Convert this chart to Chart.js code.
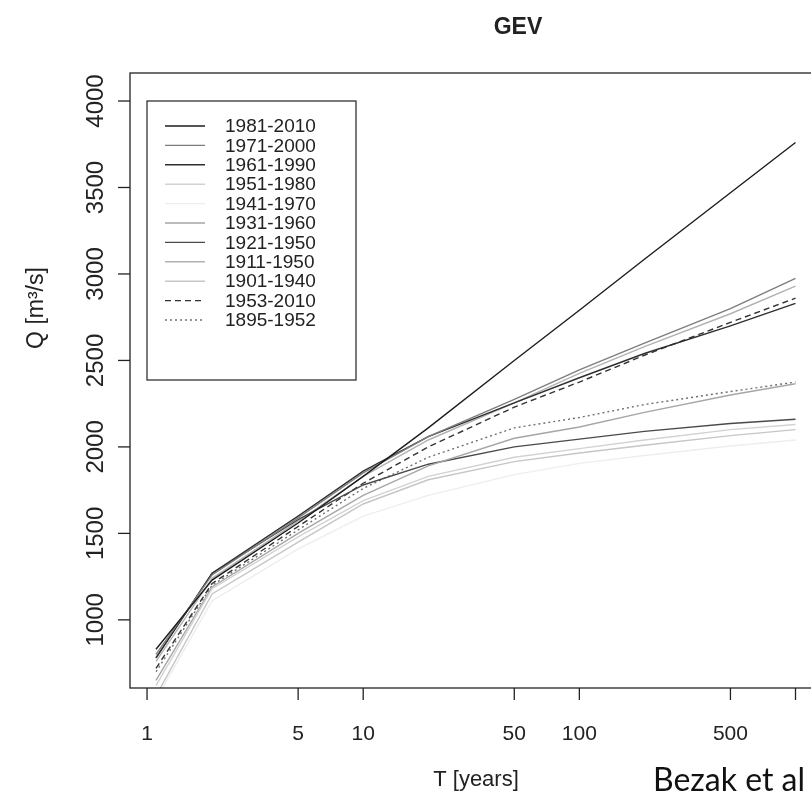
<!DOCTYPE html>
<html>
<head>
<meta charset="utf-8">
<script src="https://cdn.jsdelivr.net/npm/chart.js@4.4.1/dist/chart.umd.min.js"></script>
<style>
  html, body { margin: 0; padding: 0; background: #fff; overflow: hidden; }
</style>
</head>
<body>
<canvas id="grafico" width="830" height="802"></canvas>
<script>
// Periodos de retorno T [anos]
const periodos = [1.1, 2, 5, 10, 20, 50, 100, 200, 500, 1000];

// Vazoes Q [m3/s]
const q1981_2010 = [830, 1230, 1560, 1830, 2110, 2500, 2790, 3085, 3470, 3760];
const q1971_2000 = [800, 1260, 1590, 1850, 2060, 2275, 2445, 2600, 2800, 2975];
const q1961_1990 = [780, 1270, 1600, 1860, 2060, 2255, 2400, 2540, 2700, 2830];
const q1951_1980 = [620, 1180, 1480, 1690, 1830, 1940, 1990, 2040, 2100, 2130];
const q1941_1970 = [540, 1110, 1410, 1600, 1720, 1840, 1905, 1950, 2005, 2040];
const q1931_1960 = [650, 1190, 1500, 1720, 1890, 2050, 2115, 2200, 2300, 2365];
const q1921_1950 = [780, 1270, 1580, 1780, 1900, 2000, 2045, 2090, 2135, 2160];
const q1911_1950 = [760, 1240, 1570, 1830, 2040, 2255, 2425, 2580, 2770, 2930];
const q1901_1940 = [560, 1150, 1450, 1670, 1810, 1915, 1965, 2010, 2065, 2100];
const q1953_2010 = [720, 1210, 1540, 1790, 2000, 2230, 2375, 2530, 2720, 2860];
const q1895_1952 = [700, 1200, 1520, 1760, 1940, 2110, 2170, 2245, 2320, 2375];

const legendas = ['1981-2010', '1971-2000', '1961-1990', '1951-1980', '1941-1970',
    '1931-1960', '1921-1950', '1911-1950', '1901-1940', '1953-2010', '1895-1952'];
const series = [q1981_2010, q1971_2000, q1961_1990, q1951_1980, q1941_1970,
    q1931_1960, q1921_1950, q1911_1950, q1901_1940, q1953_2010, q1895_1952];

// Eixos
const xTicks = [1, 5, 10, 50, 100, 500, 1000];
const xTickLabels = ['1', '5', '10', '50', '100', '500', ''];
const yTicks = [1000, 1500, 2000, 2500, 3000, 3500, 4000];

// Cores e tracos (tons de cinza como no original)
const cores = ['#1c1c1c', '#7e7e7e', '#2e2e2e', '#d2d2d2', '#eeeeee',
    '#a6a6a6', '#4a4a4a', '#b2b2b2', '#c6c6c6', '#333333', '#707070'];
const tracos = [[], [], [], [], [], [], [], [], [], [6, 4], [2, 3]];

const fonte = '"Liberation Sans", Arial, sans-serif';
const corTexto = '#222';

// Desenha eixos no estilo R, legenda e titulos
const eixosR = {
    id: 'eixosR',
    afterDatasetsDraw(chart) {
        const { ctx, chartArea: a, scales: { x, y } } = chart;
        const linha = (x1, y1, x2, y2) => {
            ctx.beginPath(); ctx.moveTo(x1, y1); ctx.lineTo(x2, y2); ctx.stroke();
        };
        const vertical = (s, px, py) => {
            ctx.save();
            ctx.translate(px, py);
            ctx.rotate(-Math.PI / 2);
            ctx.fillText(s, 0, 0);
            ctx.restore();
        };
        ctx.save();
        ctx.strokeStyle = '#222';
        ctx.lineWidth = 1.3;
        ctx.strokeRect(a.left, a.top, a.right - a.left, a.bottom - a.top);

        ctx.fillStyle = corTexto;
        ctx.textAlign = 'center';
        ctx.textBaseline = 'middle';

        // eixo x
        ctx.font = '21px ' + fonte;
        xTicks.forEach((t, i) => {
            const px = x.getPixelForValue(t);
            linha(px, a.bottom, px, a.bottom + 12);
            if (xTickLabels[i]) ctx.fillText(xTickLabels[i], px, 734);
        });
        ctx.font = '22px ' + fonte;
        ctx.fillText('T [years]', 476, 780);

        // eixo y (rotulos girados)
        ctx.font = '24px ' + fonte;
        yTicks.forEach(v => {
            const py = y.getPixelForValue(v);
            linha(a.left - 12, py, a.left, py);
            vertical(String(v), 96, py);
        });
        ctx.font = '23px ' + fonte;
        vertical('Q [m\u00B3/s]', 37, 308);

        // titulo
        ctx.font = 'bold 23px ' + fonte;
        ctx.fillText('GEV', 518, 28);

        // legenda
        ctx.fillStyle = '#fff';
        ctx.fillRect(147, 101, 209, 279);
        ctx.strokeStyle = '#222';
        ctx.lineWidth = 1.2;
        ctx.strokeRect(147, 101, 209, 279);
        ctx.font = '19px ' + fonte;
        ctx.textAlign = 'left';
        chart.data.datasets.forEach((ds, i) => {
            const ly = 126 + i * 19.4;
            ctx.strokeStyle = ds.borderColor;
            ctx.lineWidth = ds.borderWidth;
            ctx.setLineDash(ds.borderDash || []);
            linha(165, ly, 205, ly);
            ctx.setLineDash([]);
            ctx.fillStyle = corTexto;
            ctx.fillText(ds.label, 225, ly + 1);
        });

        // credito
        ctx.fillStyle = '#111';
        ctx.font = '32px Lato, "Open Sans", sans-serif';
        ctx.textBaseline = 'alphabetic';
        ctx.fillText('Bezak et al', 653, 791);
        ctx.restore();
    }
};

const datasets = series.map((vals, i) => ({
    label: legendas[i],
    data: periodos.map((t, j) => ({ x: t, y: vals[j] })),
    borderColor: cores[i],
    borderWidth: 1.4,
    borderDash: tracos[i],
    pointRadius: 0,
    tension: 0,
    fill: false
}));

new Chart(document.getElementById('grafico').getContext('2d'), {
    type: 'line',
    data: { datasets: datasets },
    options: {
        responsive: false,
        animation: false,
        devicePixelRatio: 1,
        layout: { padding: { left: 130, top: 73, right: 9, bottom: 114 } },
        plugins: { legend: { display: false }, tooltip: { enabled: false } },
        scales: {
            x: { type: 'logarithmic', min: 0.834, max: 1312, display: false },
            y: { type: 'linear', min: 606, max: 4162, display: false }
        }
    },
    plugins: [eixosR]
});
</script>
</body>
</html>
